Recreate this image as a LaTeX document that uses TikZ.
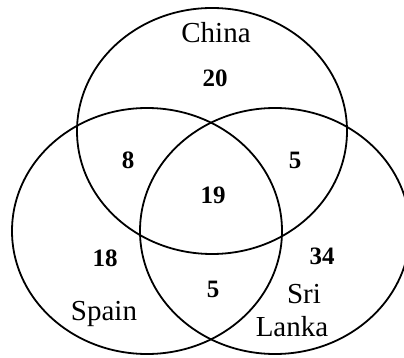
\documentclass[tikz,border=0pt]{standalone}
\usepackage{fontspec}
\setmainfont{Liberation Serif}
\usetikzlibrary{shapes.geometric}
\begin{document}
\begin{tikzpicture}[x=1pt,y=-1pt,
  setring/.style={draw=black, line width=1.8pt, ellipse, inner sep=0pt,
    minimum width=270pt, minimum height=246pt},
  lbl/.style={anchor=base, inner sep=0pt, font=\fontsize{29}{32}\selectfont},
  num/.style={anchor=base, inner sep=0pt, font=\fontsize{25}{28}\selectfont\bfseries}]
\useasboundingbox (0,0) rectangle (404,358);
\node[setring] (china) at (212,131) {};
\node[setring] (spain) at (147,231) {};
\node[setring] (srilanka) at (275,231) {};
\node[lbl] (tchina) at (216,43) {China};
\node[lbl] (tspain) at (104,320) {Spain};
\node[lbl] (tsri) at (304,303) {Sri};
\node[lbl] (tlanka) at (292,336) {Lanka};
\node[num] (n20) at (215,87) {20};
\node[num] (n8) at (128,169) {8};
\node[num] (n5a) at (295,169) {5};
\node[num] (n19) at (213,204) {19};
\node[num] (n18) at (105,266) {18};
\node[num] (n34) at (322,264) {34};
\node[num] (n5b) at (213,297) {5};
\end{tikzpicture}
\end{document}
